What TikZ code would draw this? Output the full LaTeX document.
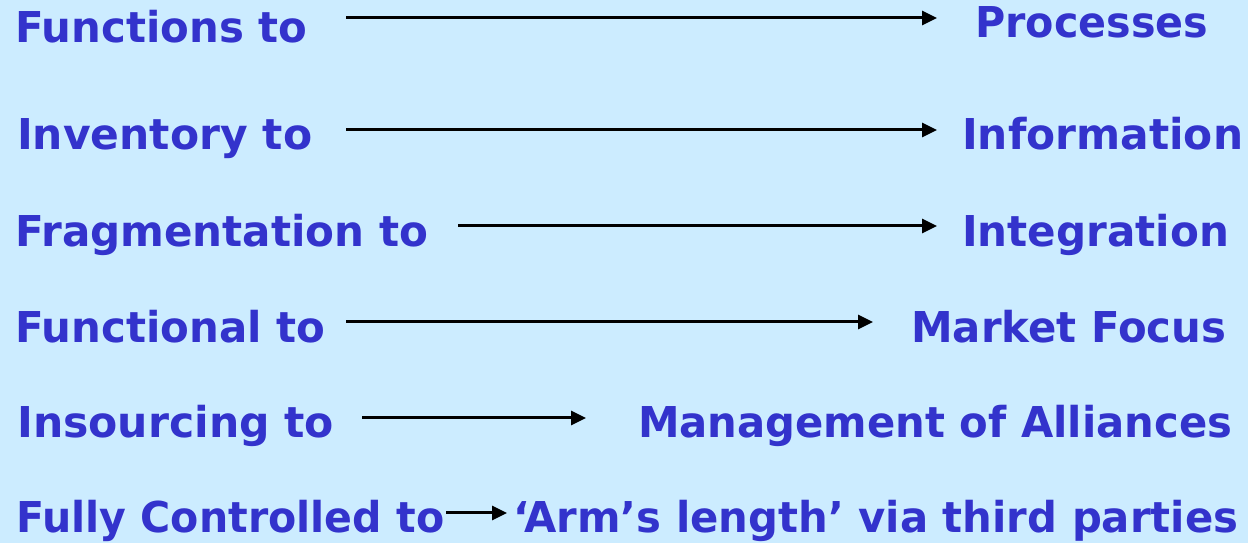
\documentclass[tikz,border=0pt]{standalone}
\usepackage{fontspec}
\usepackage{graphicx}
\setmainfont{DejaVu Sans}
\usetikzlibrary{arrows.meta}
\definecolor{bgblue}{HTML}{CCECFF}
\definecolor{txtblue}{HTML}{3333CC}
\newcommand{\fitto}[2]{\resizebox{#1pt}{\height}{#2}}
\tikzset{
  lbl/.style={anchor=base west, inner sep=0pt, text=txtblue, font=\fontsize{42.5}{50}\selectfont\bfseries},
  conn/.style={line width=3pt, -{Triangle[length=15pt,width=14pt]}}
}
\begin{document}
\begin{tikzpicture}[x=1pt,y=1pt]
\fill[bgblue] (0,0) rectangle (1248,543);
\useasboundingbox (0,0) rectangle (1248,543);
% row 1
\node[lbl] (l1) at (15,500) {\fitto{292}{Functions to}};
\node[lbl] (r1) at (975,505) {\fitto{233}{Processes}};
\coordinate (s1) at (346,525);
\coordinate (e1) at (937,525);
\draw[conn] (s1) -- (e1);
% row 2
\node[lbl] (l2) at (17,393) {\fitto{295}{Inventory to}};
\node[lbl] (r2) at (962,393) {\fitto{281}{Information}};
\coordinate (s2) at (346,413);
\coordinate (e2) at (937,413);
\draw[conn] (s2) -- (e2);
% row 3
\node[lbl] (l3) at (15,296) {\fitto{413}{Fragmentation to}};
\node[lbl] (r3) at (962,296) {\fitto{267}{Integration}};
\coordinate (s3) at (458,317);
\coordinate (e3) at (937,317);
\draw[conn] (s3) -- (e3);
% row 4
\node[lbl] (l4) at (15,200) {\fitto{310}{Functional to}};
\node[lbl] (r4) at (911,200) {\fitto{315}{Market Focus}};
\coordinate (s4) at (346,221);
\coordinate (e4) at (873,221);
\draw[conn] (s4) -- (e4);
% row 5
\node[lbl] (l5) at (17,105) {\fitto{317}{Insourcing to}};
\node[lbl] (r5) at (638,105) {\fitto{594}{Management of Alliances}};
\coordinate (s5) at (362,125);
\coordinate (e5) at (586,125);
\draw[conn] (s5) -- (e5);
% row 6
\node[lbl] (l6) at (16,10) {\fitto{428}{Fully Controlled to}};
\node[lbl] (r6) at (513,10) {\fitto{725}{‘Arm’s length’ via third parties}};
\coordinate (s6) at (446,30);
\coordinate (e6) at (507,30);
\draw[conn] (s6) -- (e6);
\end{tikzpicture}
\end{document}
